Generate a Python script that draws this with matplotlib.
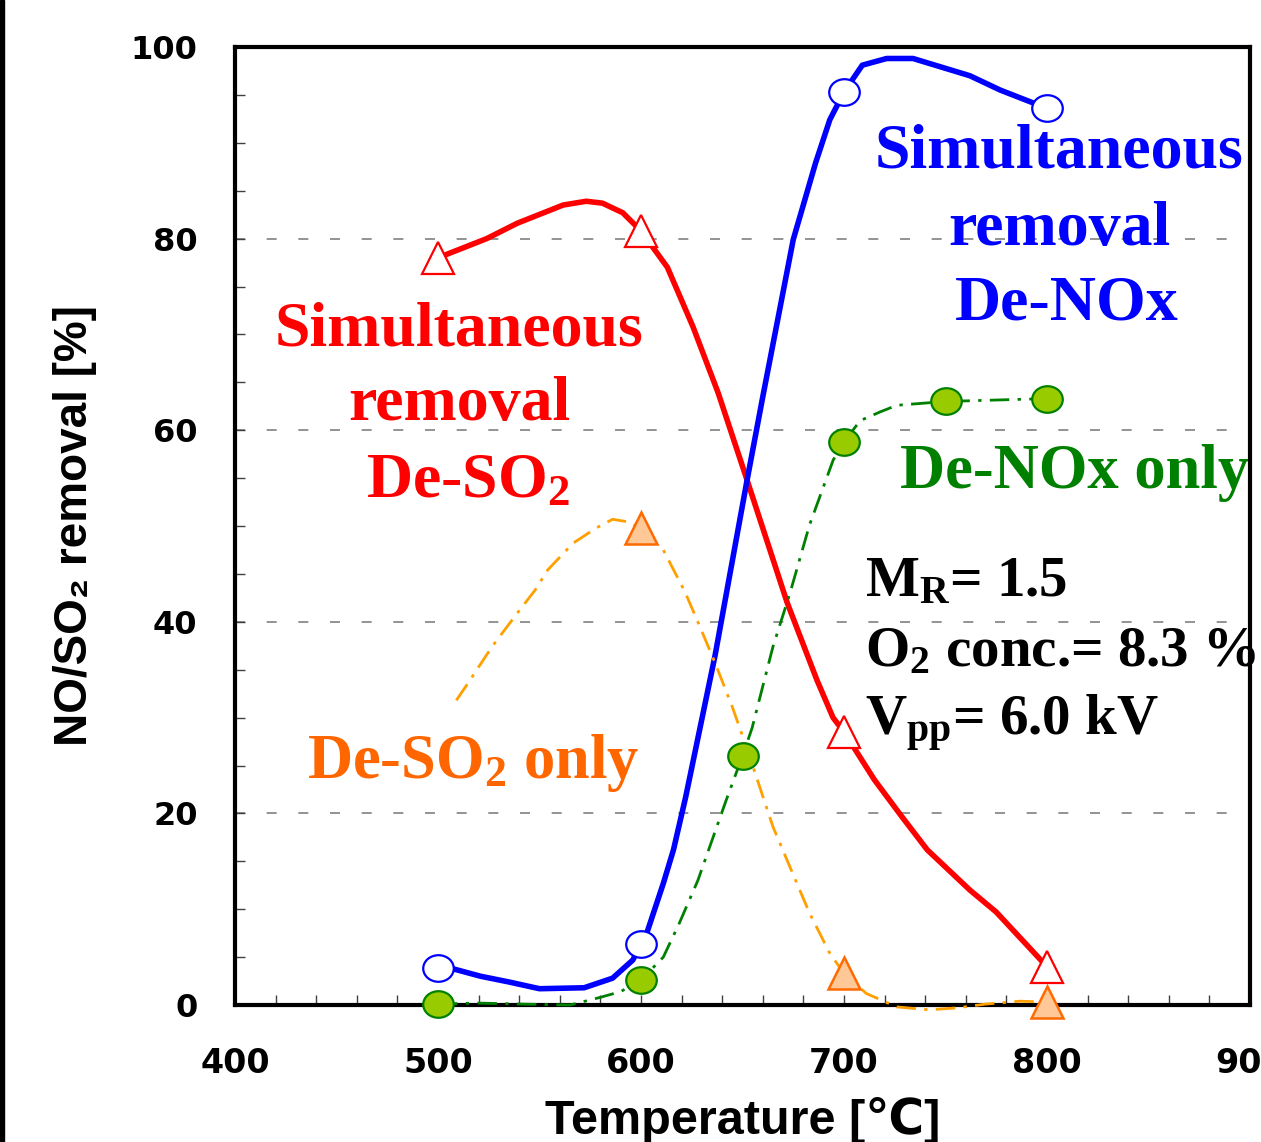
import matplotlib
matplotlib.use("Agg")
import matplotlib.pyplot as plt
from matplotlib.path import Path
from matplotlib.transforms import Affine2D
from matplotlib.patches import Rectangle
from matplotlib.ticker import MultipleLocator

plt.rcParams['mathtext.fontset'] = 'custom'
plt.rcParams['mathtext.rm'] = 'Liberation Serif:bold'
plt.rcParams['mathtext.it'] = 'Liberation Serif:italic:bold'
plt.rcParams['mathtext.bf'] = 'Liberation Serif:bold'
plt.rcParams['mathtext.default'] = 'rm'

# ---------------- data ----------------
# measured points (markers)
desox_sim_T = [500, 600, 700, 800]
desox_sim_val = [78.0, 80.8, 28.5, 4.0]
denox_sim_T = [500, 600, 700, 800]
denox_sim_val = [3.9, 6.4, 95.3, 93.6]
denox_only_T = [500, 600, 650, 700, 750, 800]
denox_only_val = [0.1, 2.6, 26.0, 58.8, 63.0, 63.3]
desox_only_T = [600, 700, 800]
desox_only_val = [49.8, 3.3, 0.3]

# traced smooth curves
denox_sim_curve_T = [500, 507, 521, 535, 550, 572, 586, 596, 600, 603, 611, 616, 622,
                     636.5, 652, 660, 675, 686, 693, 700, 709, 721, 734, 762, 777, 800]
denox_sim_curve_val = [3.9, 3.8, 3.0, 2.4, 1.7, 1.8, 2.8, 4.7, 6.4, 7.6, 12.7, 16.2, 21.7,
                       36.5, 54.5, 63.5, 79.9, 87.9, 92.4, 95.3, 98.1, 98.8, 98.8, 97.0, 95.5, 93.6]
desox_sim_curve_T = [500, 524, 539, 561.6, 573, 581, 591, 600, 613, 625.6, 638, 652.7,
                     672, 686.7, 694.6, 700, 715, 728, 741, 762, 775, 800]
desox_sim_curve_val = [78.0, 80.0, 81.6, 83.5, 83.9, 83.7, 82.7, 80.8, 77.0, 70.8, 63.9, 54.5,
                       42.0, 33.9, 30.0, 28.5, 23.5, 19.8, 16.2, 12.0, 9.7, 4.0]
denox_only_curve_T = [500, 520, 540, 565, 580, 590, 600, 611, 619, 628, 635, 642, 650,
                      654.7, 665, 673.4, 683, 694.7, 700, 708, 717.7, 726, 750, 800]
denox_only_curve_val = [0.1, 0.2, 0.1, 0.0, 0.8, 1.4, 2.6, 5.0, 8.6, 13.0, 17.2, 21.4, 26.0,
                        28.9, 37.4, 43.0, 50.1, 56.9, 58.8, 61.0, 61.9, 62.6, 63.0, 63.3]
desox_only_curve_T = [509, 514.8, 526.6, 539.4, 547.8, 554, 566.5, 578, 586, 594.6, 600,
                      611, 621.7, 629, 636.5, 645, 652, 665, 673.4, 683, 693, 700,
                      711, 726, 742, 755.6, 770, 786.7, 800]
desox_only_curve_val = [31.8, 33.6, 37.4, 41.0, 43.3, 45.4, 48.2, 49.8, 50.7, 50.4, 49.7,
                        47.5, 43.1, 39.5, 35.7, 31.1, 26.9, 18.6, 14.4, 9.6, 5.4, 3.3,
                        1.2, -0.2, -0.5, -0.3, 0.1, 0.4, 0.3]

x_ticks = [400, 500, 600, 700, 800, 900]
y_ticks = [0, 20, 40, 60, 80, 100]

# ---------------- figure ----------------
W, H = 1261, 1142
fig = plt.figure(figsize=(W / 100, H / 100), dpi=100)
ax = fig.add_axes([235 / W, 1 - 1005 / H, (1250 - 235) / W, (1005 - 47) / H])
ax.set_xlim(400, 900)
ax.set_ylim(0, 100)

# grid
for g in [20, 40, 60, 80]:
    ax.axhline(g, color='#808080', lw=1.2, dashes=(6, 13), zorder=1)

ell = Affine2D().scale(1, 0.87).transform_path(Path.unit_circle())

BLUE = '#0000FF'
RED = '#FF0000'
GREEN = '#008000'
GFILL = '#99CC00'
ORANGE_L = '#FFA000'
ORANGE_E = '#FF6A00'
ORANGE_F = '#FFC896'
ORANGE_T = '#FF6600'

dd = (0, (7, 3, 1.2, 3))
ax.plot(denox_only_curve_T, denox_only_curve_val, color=GREEN, lw=2, ls=dd, zorder=9,
        clip_on=False)
ax.plot(desox_only_curve_T, desox_only_curve_val, color=ORANGE_L, lw=2, ls=dd, zorder=9,
        clip_on=False)
ax.plot(desox_sim_curve_T, desox_sim_curve_val, color=RED, lw=4, zorder=4,
        solid_joinstyle='round')
ax.plot(denox_sim_curve_T, denox_sim_curve_val, color=BLUE, lw=4, zorder=4,
        solid_joinstyle='round')

ax.plot(denox_only_T, denox_only_val, ls='none', marker=ell, ms=22,
        mfc=GFILL, mec=GREEN, mew=1.6, zorder=10, clip_on=False)
ax.plot(desox_only_T, desox_only_val, ls='none', marker='^', ms=23,
        mfc=ORANGE_F, mec=ORANGE_E, mew=1.8, zorder=10, clip_on=False)
ax.plot(desox_sim_T, desox_sim_val, ls='none', marker='^', ms=23,
        mfc='white', mec=RED, mew=1.6, zorder=10, clip_on=False)
ax.plot(denox_sim_T, denox_sim_val, ls='none', marker=ell, ms=22,
        mfc='white', mec=BLUE, mew=1.6, zorder=10, clip_on=False)

# axes styling
for s in ax.spines.values():
    s.set_linewidth(3)
    s.set_zorder(8)
ax.set_xticks(x_ticks)
ax.set_yticks(y_ticks)
ax.xaxis.set_minor_locator(MultipleLocator(20))
ax.yaxis.set_minor_locator(MultipleLocator(5))
ax.tick_params(which='both', direction='in', top=False, right=False,
               length=7, width=1, color='#404040')
ax.tick_params(axis='y', which='major', pad=27)
ax.tick_params(axis='x', which='major', pad=30)
for lab in ax.get_yticklabels():
    lab.set_fontfamily('DejaVu Sans'); lab.set_fontweight('bold'); lab.set_fontsize(23)
for lab in ax.get_xticklabels():
    lab.set_fontfamily('DejaVu Sans'); lab.set_fontweight('bold'); lab.set_fontsize(24)
    lab.set_clip_on(False)

sans = ['Liberation Sans', 'DejaVu Sans']
ax.set_ylabel('NO/SO\u2082 removal [%]', family=sans, fontweight='bold', fontsize=33,
              va='center')
ax.yaxis.set_label_coords((75 - 235) / (1250 - 235), 0.5)
ax.set_xlabel('Temperature [\u2103]', family=sans, fontweight='bold', fontsize=35,
              va='center')
ax.xaxis.set_label_coords(0.5, -(1120 - 1005) / (1005 - 47))


def px2data(px, py):
    return 400 + (px - 235) / 2.03, (1005 - py) / 9.58


serif = 'Liberation Serif'


def put(px, py, s, color, size, ha='center'):
    x, y = px2data(px, py)
    ax.text(x, y, s, color=color, fontsize=size, family=serif, fontweight='bold',
            ha=ha, va='baseline', zorder=7, clip_on=False)


put(459, 345, 'Simultaneous', RED, 46)
put(459, 420, 'removal', RED, 46)
put(468, 497, 'De-SO$_2$', RED, 46)

put(1059, 168, 'Simultaneous', BLUE, 46)
put(1059, 245, 'removal', BLUE, 46)
put(1067, 320, 'De-NOx', BLUE, 46)

put(900, 488, 'De-NOx only', GREEN, 45, ha='left')
put(307, 778, 'De-SO$_2$ only', ORANGE_T, 45, ha='left')

put(865, 596, 'M$_{R}$= 1.5', 'black', 41, ha='left')
put(865, 666, 'O$_2$ conc.= 8.3 %', 'black', 41, ha='left')
put(865, 735, 'V$_{pp}$= 6.0 kV', 'black', 41, ha='left')

fig.patches.append(Rectangle((0, 0), 4 / W, 1, transform=fig.transFigure,
                             color='black', zorder=10))

fig.savefig('out.png', dpi=100)
